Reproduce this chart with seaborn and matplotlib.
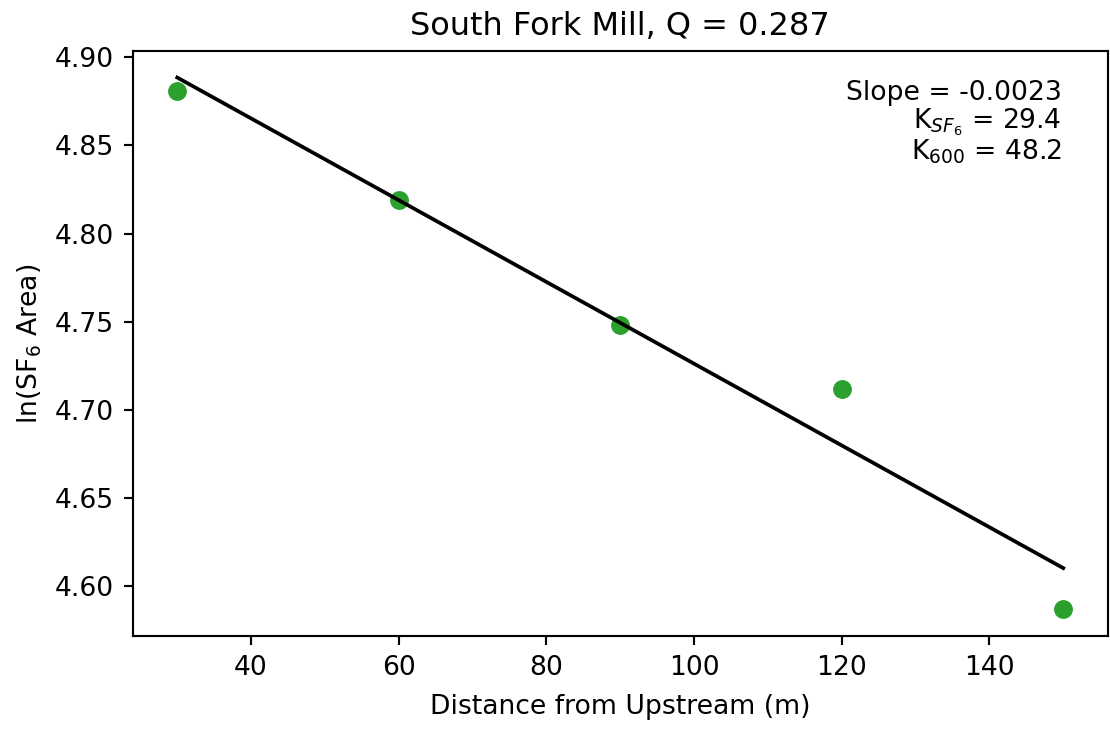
import numpy as np
import pandas as pd
import matplotlib
matplotlib.use('Agg')
import matplotlib.pyplot as plt
import seaborn as sns

# values
distance = [30, 60, 90, 120, 150]
ln_area = [4.881, 4.819, 4.748, 4.712, 4.587]
site = 'South Fork Mill'
discharge = 0.287
k_sf6 = 29.4
k_600 = 48.2

df = pd.DataFrame({'Distance': distance, 'lnArea': ln_area})

# linear fit through the points
slope, intercept = np.polyfit(df['Distance'], df['lnArea'], 1)
fit = pd.DataFrame({'Distance': [min(distance), max(distance)]})
fit['lnArea'] = intercept + slope * fit['Distance']

fig = plt.figure(figsize=(1110 / 192, 729 / 192), dpi=192)
ax = fig.add_axes([0.1198, 0.1276, 0.878, 0.8025])

sns.scatterplot(x='Distance', y='lnArea', data=df, color='#2ca02c', s=50,
                linewidth=0, ax=ax)
sns.lineplot(x='Distance', y='lnArea', data=fit, color='black', linewidth=1.4,
             ax=ax)

ax.set_title(f'{site}, Q = {discharge}', fontsize=12)
ax.set_xlabel('Distance from Upstream (m)', labelpad=5)
ax.set_ylabel('ln(SF$_6$ Area)')
ax.set_yticks([4.60, 4.65, 4.70, 4.75, 4.80, 4.85, 4.90])
ax.set_yticklabels(['4.60', '4.65', '4.70', '4.75', '4.80', '4.85', '4.90'])

ax.text(0.953, 0.95,
        f'Slope = {slope:.4f}\nK$_{{SF_6}}$ = {k_sf6}\nK$_{{600}}$ = {k_600}',
        transform=ax.transAxes, ha='right', va='top', fontsize=10,
        multialignment='right', linespacing=1.0)

fig.savefig('out.png', dpi=192)
